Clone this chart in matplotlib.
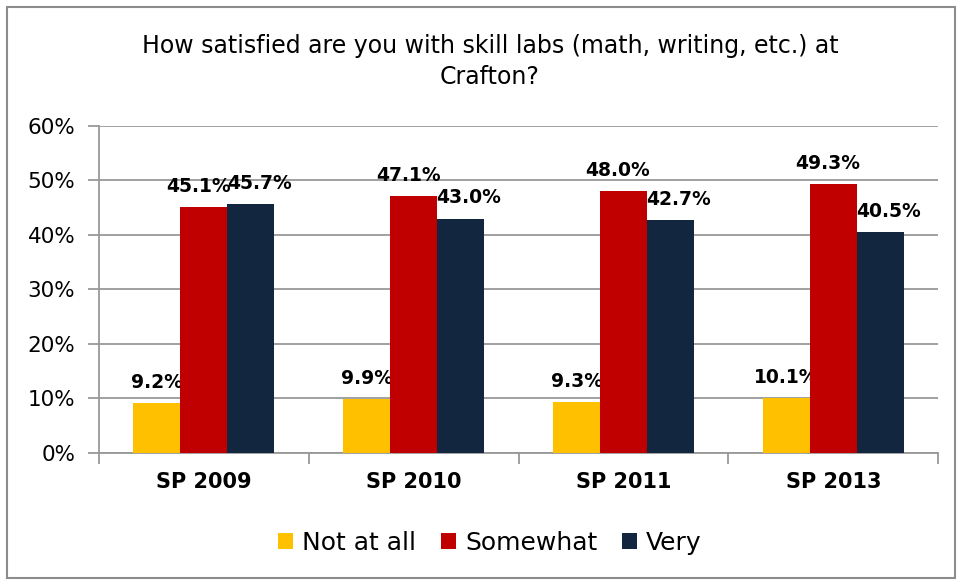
import numpy as np
import matplotlib.pyplot as plt
from matplotlib.patches import Rectangle

# Survey terms
terms = ["SP 2009", "SP 2010", "SP 2011", "SP 2013"]

# Response levels
levels = ["Not at all", "Somewhat", "Very"]

# Percent of respondents for each level, per term
not_at_all = [9.2, 9.9, 9.3, 10.1]
somewhat = [45.1, 47.1, 48.0, 49.3]
very = [45.7, 43.0, 42.7, 40.5]

values = [not_at_all, somewhat, very]
colors = ['#FFC000', '#C00000', '#13263F']
label_shift = [0, -4, 6]  # points, keeps neighbouring labels apart

plt.rcParams['font.family'] = ['DejaVu Sans']

fig = plt.figure(figsize=(9.57, 5.8), dpi=100)
ax = fig.add_axes([0.1034, 0.219, 0.877, 0.564])

# chart border
fig.patches.append(Rectangle((0.007, 0.004), 0.991, 0.984, transform=fig.transFigure,
                             fill=False, edgecolor='#8C8C8C', linewidth=1.5))

x = np.arange(len(terms))
bar_width = 0.224
for i in range(len(values)):
    pos = x + (i - 1) * bar_width
    ax.bar(pos, values[i], width=bar_width, color=colors[i], label=levels[i], zorder=3)
    for j in range(len(pos)):
        ax.annotate("%.1f%%" % values[i][j], (pos[j], values[i][j]), xytext=(label_shift[i], 8),
                    textcoords='offset points', ha='center', va='bottom',
                    fontsize=13.5, fontweight='bold')

ax.set_xlim(-0.5, len(terms) - 0.5)
ax.set_ylim(0, 60)
ax.set_yticks(np.arange(0, 61, 10))
ax.set_yticklabels(["%d%%" % v for v in range(0, 61, 10)], fontsize=15.5)
ax.yaxis.grid(True, color='#999999', linewidth=1.3, zorder=0)
ax.tick_params(axis='y', length=8, width=1.3, color='#999999', pad=9)

# category labels and separators
ax.set_xticks(x)
ax.set_xticklabels(terms, fontsize=15, fontweight='bold')
ax.tick_params(axis='x', length=0, pad=14)
ax.set_xticks(np.arange(-0.5, len(terms)), minor=True)
ax.tick_params(axis='x', which='minor', length=8, width=1.3, color='#999999')

for s in ['top', 'right']:
    ax.spines[s].set_visible(False)
for s in ['left', 'bottom']:
    ax.spines[s].set_color('#999999')
    ax.spines[s].set_linewidth(1.3)

fig.text(0.512, 0.894, "How satisfied are you with skill labs (math, writing, etc.) at\nCrafton?",
         ha='center', va='center', fontsize=17, linespacing=1.35)

fig.legend(loc='center', bbox_to_anchor=(0.512, 0.064), ncol=3, frameon=False,
           fontsize=18, handlelength=0.6, handleheight=0.6, handletextpad=0.35,
           columnspacing=1.0)

plt.savefig("out.png", dpi=100)
